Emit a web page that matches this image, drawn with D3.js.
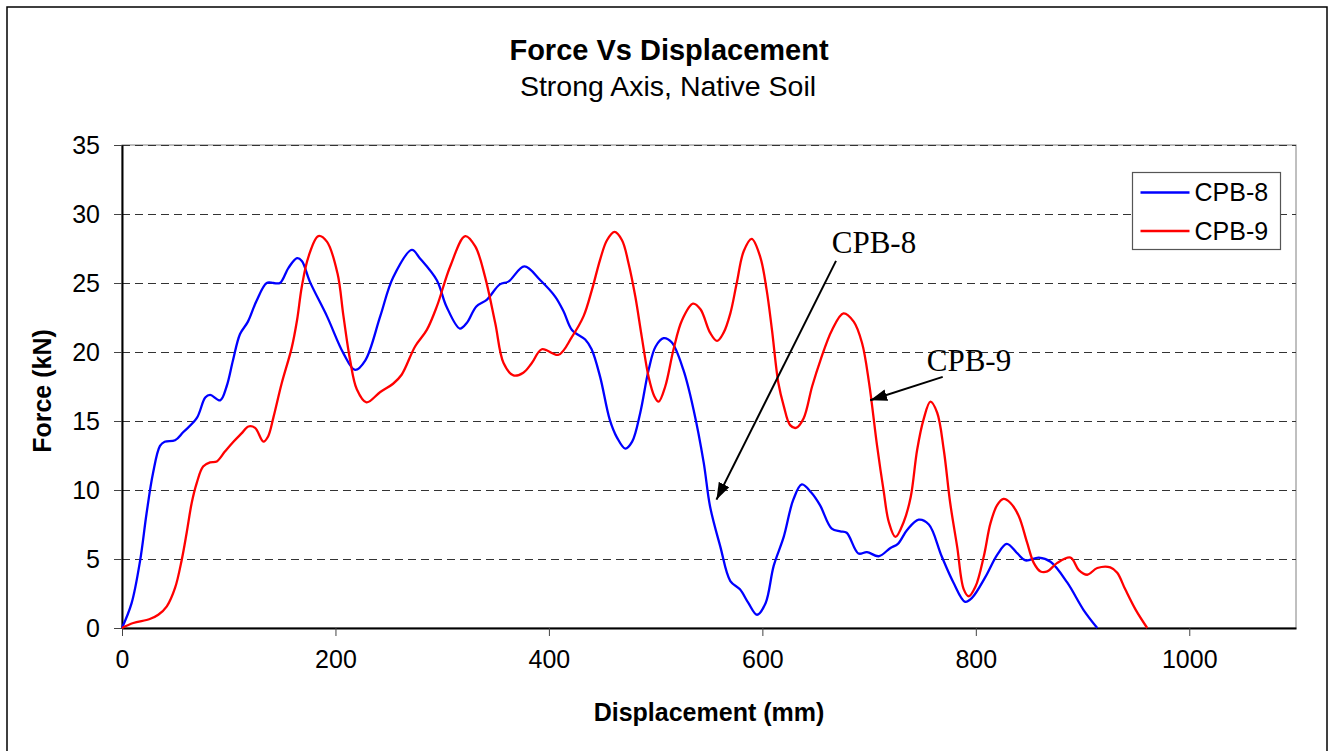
<!DOCTYPE html>
<html>
<head>
<meta charset="utf-8">
<script src="https://cdn.jsdelivr.net/npm/d3@7"></script>
<style>
  body { margin: 0; background: #fff; }
  text { font-family: "Liberation Sans", Arial, sans-serif; }
</style>
</head>
<body>
<svg id="chart"></svg>
<script>
// data
var seriesNames = ["CPB-8", "CPB-9"]
var seriesColors = ["#0000ff", "#ff0000"]
var xTicks = [0, 200, 400, 600, 800, 1000]
var yTicks = [0, 5, 10, 15, 20, 25, 30, 35]

var cpb8X = [0,9,17,23,29,35.6,40,49.7,57.5,70,78,82.5,92,98,104,110.6,118,126,135.6,142,148,156,164,168.5,176,192,207.5,218.4,228,242,254,271.6,279,295,304,316.6,323,332,342,354,362,377,392,406,414,421.6,434,440,448,457,463.8,471.6,478,485.6,493.4,500,507.5,515,526,535.6,545,551,560.6,570,579,587,595,603,610.6,620,629,637,646,654,665,673,679,690,698,709,720,727,735.6,746.5,756,768,779,790,796.6,809,820,829,839,846.6,859,870,885.6,901,913.8]
var cpb8Y = [0,1.8,4.9,8.3,11.2,13.2,13.5,13.6,14.2,15.2,16.7,16.9,16.5,17.5,19.4,21.3,22.2,23.7,25.0,25.0,25.0,26.1,26.8,26.6,25.1,22.6,19.9,18.7,19.4,22.6,25.4,27.4,26.8,25.2,23.3,21.7,22.1,23.3,23.8,24.9,25.1,26.2,25.2,24.0,22.9,21.6,20.9,20.2,18.2,15.1,13.8,13.0,13.5,15.6,18.7,20.4,21.0,20.7,18.7,15.8,12.0,8.8,5.9,3.4,2.8,1.8,0.96,1.8,4.5,6.6,9.3,10.4,9.8,8.9,7.2,7.0,6.9,5.4,5.5,5.2,5.8,6.1,7.1,7.85,7.5,5.2,3.3,1.9,2.2,3.7,5.3,6.1,5.4,4.9,5.1,4.8,3.3,1.3,0]

var cpb9X = [0,10.6,26,34,42,49.7,56,60.6,65.3,70,76,82.5,88.8,96.6,104.4,112,118.4,124.7,132.5,137,142,149.7,159,164,168.5,174.7,184,192,201.9,207.5,213.75,220,229,242,254,262,274.6,285.6,295,307.5,321.6,331,340,349.7,357.5,366.8,376,384,393.4,409,421.6,432.5,440.3,448,454.4,461.5,468.5,474.7,481,487,493.4,498.75,502.8,509,516.8,524.7,535,542,551,557.5,563.7,570,576,582.5,590,598,604,609,615,620,626,631.6,638.7,646.6,654.4,665.3,676,685.6,693.4,700,707.5,713.7,718.4,724.7,732.5,739,745,751,757.5,763.8,770,776,782.5,788.7,793.4,799.7,807.5,813.75,820,826,832.5,840.3,848,854.4,860.6,867,876,888.75,896.5,904.4,913.8,926,932.5,940,949.7,960.6]
var cpb9Y = [0,0.36,0.65,0.96,1.57,2.9,4.95,6.9,9.06,10.5,11.7,12.0,12.07,12.8,13.5,14.1,14.6,14.5,13.5,13.9,15.3,17.75,20.3,22.3,24.75,26.9,28.4,28.0,25.7,22.6,19.4,17.3,16.35,17.1,17.7,18.35,20.4,21.6,23.3,26.2,28.4,27.65,25.5,22.1,19.2,18.3,18.5,19.2,20.2,19.8,21.1,22.6,24.5,26.7,28.1,28.7,28.1,26.4,24.0,21.1,18.2,16.8,16.4,17.5,20.2,22.3,23.5,23.1,21.4,20.8,21.4,22.8,25.0,27.3,28.2,26.9,24.5,21.6,17.75,16.1,14.7,14.5,15.2,17.5,19.4,21.6,22.8,22.2,20.65,17.75,13.2,9.9,7.7,6.6,7.7,9.5,12.9,15.1,16.4,15.6,12.9,9.06,5.9,2.8,2.3,3.0,5.2,7.6,8.9,9.35,9.06,8.1,6.2,4.7,4.1,4.1,4.7,5.1,4.2,3.86,4.35,4.4,4.0,2.8,1.33,0]

// callouts: [label, text x, text y, arrow from x, from y, arrow tip x, tip y]
var callouts = [
  ["CPB-8", 665, 27.2, 669, 26.6, 557, 9.3],
  ["CPB-9", 754, 18.6, 769, 18.2, 701, 16.5]
]

var screen = {width:1333, height:751}
var margins = {top:145, bottom:123, left:122, right:37}
var graph = {
  width: screen.width - margins.left - margins.right,
  height: screen.height - margins.top - margins.bottom
}

var svg = d3.select("#chart")
  .attr("width", screen.width)
  .attr("height", screen.height)

// outer frame
svg.append("rect")
  .attr("x", 7).attr("y", 7)
  .attr("width", 1320).attr("height", 760)
  .attr("fill", "none")
  .attr("stroke", "#000")
  .attr("stroke-width", 1.5)

var xScale = d3.scaleLinear().domain([0, 1100]).range([0, graph.width])
var yScale = d3.scaleLinear().domain([0, 35]).range([graph.height, 0])

var g = svg.append("g")
  .attr("transform", "translate(" + margins.left + "," + margins.top + ")")

// plot box
g.append("rect")
  .attr("x", 0).attr("y", 0)
  .attr("width", graph.width).attr("height", graph.height)
  .attr("fill", "none")
  .attr("stroke", "#808080")
  .attr("stroke-width", 1)

// dashed gridlines
g.append("g")
  .selectAll("line")
  .data(yTicks.filter(function(d){ return d > 0 }))
  .enter()
  .append("line")
  .attr("x1", 0).attr("x2", graph.width)
  .attr("y1", function(d){ return Math.round(yScale(d)) + 0.5 })
  .attr("y2", function(d){ return Math.round(yScale(d)) + 0.5 })
  .attr("stroke", "#333")
  .attr("stroke-width", 1)
  .attr("stroke-dasharray", "8,5")

// axes
var xAxis = d3.axisBottom(xScale).tickValues(xTicks).tickFormat(d3.format("d"))
  .tickSize(8).tickSizeOuter(0).tickPadding(14)
var yAxis = d3.axisLeft(yScale).tickValues(yTicks).tickFormat(d3.format("d"))
  .tickSize(8).tickSizeOuter(0).tickPadding(14)

var xg = g.append("g")
  .attr("transform", "translate(0," + graph.height + ")")
  .call(xAxis)
xg.select(".domain").attr("stroke", "#000").attr("stroke-width", 2)
xg.selectAll(".tick line").attr("stroke", "#444")
xg.selectAll(".tick text")
  .attr("font-size", 25).attr("fill", "#000")
  .attr("font-family", "Liberation Sans, Arial, sans-serif")

var yg = g.append("g").call(yAxis)
yg.select(".domain").attr("stroke", "#000").attr("stroke-width", 2)
yg.selectAll(".tick line").attr("stroke", "#444")
yg.selectAll(".tick text")
  .attr("font-size", 25).attr("fill", "#000")
  .attr("font-family", "Liberation Sans, Arial, sans-serif")

// lines
var series = [
  {name: seriesNames[0], color: seriesColors[0], xs: cpb8X, ys: cpb8Y},
  {name: seriesNames[1], color: seriesColors[1], xs: cpb9X, ys: cpb9Y}
]

var lineGen = d3.line()
  .x(function(d){ return xScale(d[0]) })
  .y(function(d){ return yScale(d[1]) })
  .curve(d3.curveCatmullRom.alpha(0.5))

g.append("g").selectAll("path")
  .data(series)
  .enter()
  .append("path")
  .attr("d", function(s){ return lineGen(d3.zip(s.xs, s.ys)) })
  .attr("fill", "none")
  .attr("stroke", function(s){ return s.color })
  .attr("stroke-width", 2.3)
  .attr("stroke-linejoin", "round")

// arrow callouts
svg.append("defs").append("marker")
  .attr("id", "arrow")
  .attr("viewBox", "0 0 10 7")
  .attr("refX", 10).attr("refY", 3.5)
  .attr("markerWidth", 8.5).attr("markerHeight", 6)
  .attr("markerUnits", "strokeWidth")
  .attr("orient", "auto")
  .append("path")
  .attr("d", "M0,0 L10,3.5 L0,7 Z")
  .attr("fill", "#000")

var notes = g.append("g")
notes.selectAll("line")
  .data(callouts)
  .enter()
  .append("line")
  .attr("x1", function(c){ return xScale(c[3]) })
  .attr("y1", function(c){ return yScale(c[4]) })
  .attr("x2", function(c){ return xScale(c[5]) })
  .attr("y2", function(c){ return yScale(c[6]) })
  .attr("stroke", "#000")
  .attr("stroke-width", 2)
  .attr("marker-end", "url(#arrow)")
notes.selectAll("text")
  .data(callouts)
  .enter()
  .append("text")
  .text(function(c){ return c[0] })
  .attr("x", function(c){ return xScale(c[1]) })
  .attr("y", function(c){ return yScale(c[2]) })
  .style("font-family", "'Liberation Serif', 'Times New Roman', serif")
  .attr("font-size", 31)

// legend
var legend = svg.append("g").attr("transform", "translate(1132.5,172.5)")
legend.append("rect")
  .attr("width", 148).attr("height", 77)
  .attr("fill", "#fff")
  .attr("stroke", "#555")
  .attr("stroke-width", 1.2)
var items = legend.selectAll(".item")
  .data(series)
  .enter()
  .append("g")
  .attr("transform", function(s, i){ return "translate(0," + (20 + i * 38.5) + ")" })
items.append("line")
  .attr("x1", 8).attr("x2", 57)
  .attr("stroke", function(s){ return s.color })
  .attr("stroke-width", 2.5)
items.append("text")
  .text(function(s){ return s.name })
  .attr("x", 62).attr("y", 8.5)
  .attr("font-size", 25)

// titles
var labels = svg.append("g")
labels.append("text")
  .text("Force Vs Displacement")
  .attr("x", 669).attr("y", 60)
  .attr("text-anchor", "middle")
  .attr("font-size", 29)
  .attr("font-weight", "bold")
labels.append("text")
  .text("Strong Axis, Native Soil")
  .attr("x", 668).attr("y", 96)
  .attr("text-anchor", "middle")
  .attr("font-size", 28.5)
labels.append("text")
  .text("Displacement (mm)")
  .attr("x", 709).attr("y", 721)
  .attr("text-anchor", "middle")
  .attr("font-size", 25)
  .attr("font-weight", "bold")
labels.append("g")
  .attr("transform", "translate(51," + 391 + ")")
  .append("text")
  .text("Force (kN)")
  .attr("text-anchor", "middle")
  .attr("transform", "rotate(270)")
  .attr("font-size", 25)
  .attr("font-weight", "bold")
</script>
</body>
</html>
